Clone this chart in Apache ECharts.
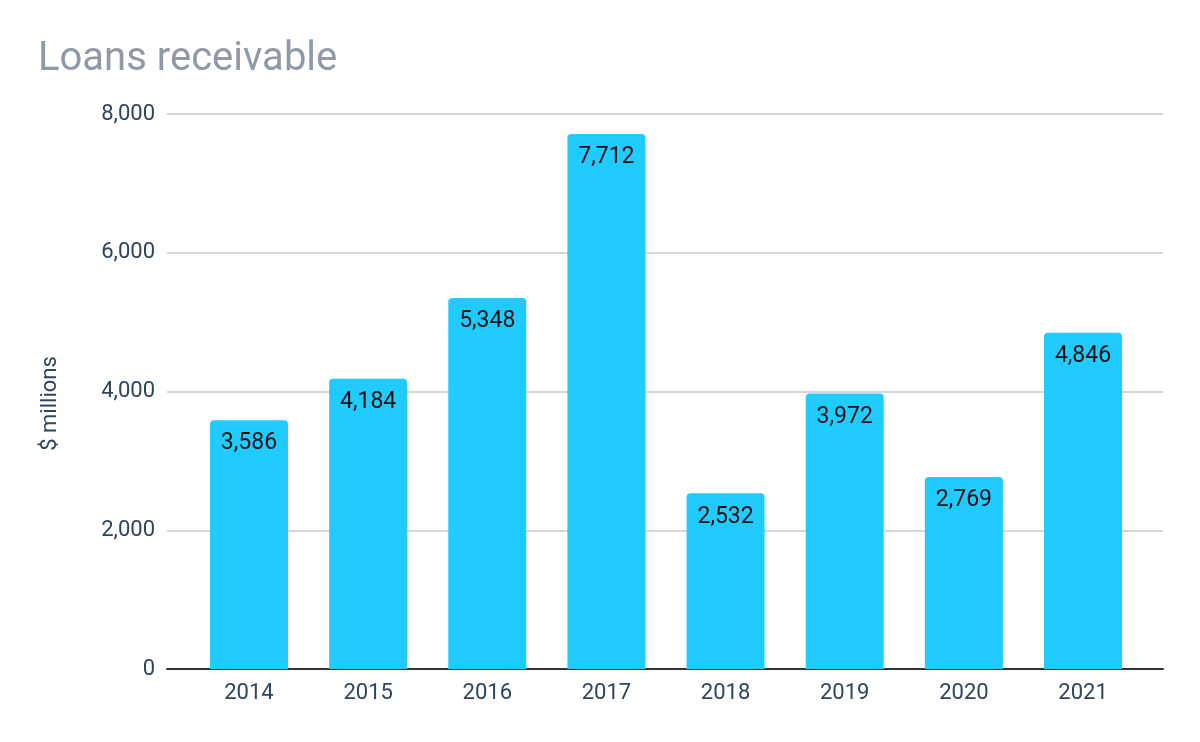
<!DOCTYPE html>
<html><head><meta charset="utf-8">
<script src="https://cdn.jsdelivr.net/npm/echarts@6/dist/echarts.min.js"></script>
<style>html,body{margin:0;padding:0;background:#fff}#c{width:1200px;height:742px}</style>
</head><body><div id="c"></div>
<script>
const categories = ['2014','2015','2016','2017','2018','2019','2020','2021'];
const values = [3586, 4184, 5348, 7712, 2532, 3972, 2769, 4846];
const yTicks = [0, 2000, 4000, 6000, 8000];
const yMin = yTicks[0], yMax = yTicks[yTicks.length-1];
const textColor = '#2e4560';
const chart = echarts.init(document.getElementById('c'));
chart.setOption({
  animation: false,
  backgroundColor: '#fff',
  title: {
    text: 'Loans receivable', left: 33, top: 35,
    textStyle: {fontFamily: 'Roboto', fontSize: 40, fontWeight: 'normal', color: '#8f9aa6'}
  },
  grid: [
    {left: 167, right: 37, top: 114, bottom: 73},
    {left: 189.4, right: 57.4, top: 114, bottom: 73}
  ],
  xAxis: [
    {
      gridIndex: 0, type: 'category', data: categories,
      axisLine: {lineStyle: {color: '#333', width: 2}},
      axisTick: {show: false}, axisLabel: {show: false}, splitLine: {show: false}
    },
    {
      gridIndex: 1, type: 'category', data: categories,
      axisLine: {show: false}, axisTick: {show: false},
      axisLabel: {fontFamily: 'Roboto', fontSize: 22, color: textColor, margin: 13}
    }
  ],
  yAxis: [
    {
      gridIndex: 0, type: 'value', min: yMin, max: yMax, interval: 2000,
      name: '$ millions', nameLocation: 'middle', nameGap: 106, nameRotate: 90,
      nameTextStyle: {fontFamily: 'Roboto', fontSize: 22, color: textColor, padding: [0, 24, 0, 0]},
      axisLine: {show: false}, axisTick: {show: false},
      splitLine: {lineStyle: {color: '#c8c8c8', width: 1.5}},
      axisLabel: {fontFamily: 'Roboto', fontSize: 22, color: textColor, margin: 12,
        formatter: v => v.toLocaleString('en-US')}
    },
    {
      gridIndex: 1, type: 'value', min: yMin, max: yMax, interval: 2000,
      show: false, splitLine: {show: false}
    }
  ],
  series: [{
    type: 'bar', xAxisIndex: 1, yAxisIndex: 1, data: values, barWidth: 78,
    itemStyle: {color: '#20ccff', borderRadius: [4,4,0,0]},
    label: {show: true, position: 'insideTop', distance: 12,
      fontFamily: 'Roboto', fontSize: 23, color: '#111',
      formatter: p => p.value.toLocaleString('en-US')}
  }]
});
</script></body></html>
